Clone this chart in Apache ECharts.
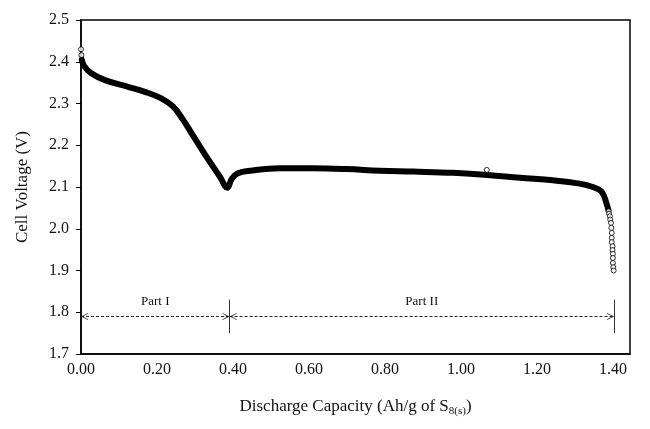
<!DOCTYPE html>
<html>
<head>
<meta charset="utf-8">
<script src="https://cdn.jsdelivr.net/npm/echarts@6/dist/echarts.min.js"></script>
<style>html,body{margin:0;padding:0;background:#fff}#c{width:650px;height:429px}</style>
</head>
<body>
<div id="c"></div>
<script>
// Main discharge curve (capacity Ah/g, voltage V)
var curveX = [0.002, 0.008, 0.026, 0.063, 0.124, 0.168, 0.21, 0.242, 0.268, 0.295, 0.33, 0.366, 0.385, 0.397, 0.413, 0.445, 0.524, 0.61, 0.70, 0.787, 0.874, 0.98, 1.07, 1.155, 1.242, 1.313, 1.347, 1.371, 1.384, 1.388];
var curveY = [2.405, 2.39, 2.373, 2.356, 2.34, 2.328, 2.313, 2.293, 2.262, 2.223, 2.173, 2.124, 2.098, 2.12, 2.133, 2.139, 2.145, 2.145, 2.143, 2.139, 2.137, 2.134, 2.129, 2.122, 2.116, 2.108, 2.10, 2.088, 2.058, 2.045];
// Isolated hollow-circle points
var circleX = [0.0, 0.001, 1.068, 1.389, 1.390, 1.392, 1.393, 1.395, 1.396, 1.397, 1.397, 1.397, 1.399, 1.399, 1.400, 1.400, 1.400, 1.401, 1.402];
var circleY = [2.43, 2.416, 2.141, 2.042, 2.036, 2.03, 2.022, 2.014, 2.002, 1.99, 1.978, 1.968, 1.958, 1.949, 1.94, 1.93, 1.918, 1.908, 1.90];
// Annotation
var partBounds = [0, 0.391, 1.403];
var partLabels = ['Part I', 'Part II'];
var arrowY = 1.79;
var dividerY = [1.75, 1.83];
var xTicks = [0, 0.2, 0.4, 0.6, 0.8, 1.0, 1.2, 1.4];
var yTicks = [1.7, 1.8, 1.9, 2.0, 2.1, 2.2, 2.3, 2.4, 2.5];

var FONT = '"Liberation Serif", "Times New Roman", serif';
var chart = echarts.init(document.getElementById('c'));
var curve = curveX.map(function (x, i) { return [x, curveY[i]]; });
var circles = circleX.map(function (x, i) { return [x, circleY[i]]; });

// open chevron whose tip sits at the symbol centre
var chev = 'path://M5,0L5.01,0L5,0.01Z M0,20L5,10L10,20L8.9,20L5,12.4L1.1,20Z';
var mlData = [];
for (var i = 0; i < partLabels.length; i++) {
  mlData.push([
    { coord: [partBounds[i], arrowY], symbol: chev, symbolSize: [7, 14] },
    { coord: [partBounds[i + 1], arrowY], symbol: chev, symbolSize: [7, 14],
      label: { show: true, formatter: partLabels[i] } }
  ]);
}
for (var j = 1; j < partBounds.length; j++) {
  mlData.push([
    { coord: [partBounds[j], dividerY[0]], symbol: 'none', lineStyle: { type: 'solid', color: '#333', width: 1 } },
    { coord: [partBounds[j], dividerY[1]], symbol: 'none' }
  ]);
}

chart.setOption({
  animation: false,
  grid: { left: 81, right: 20, top: 20, bottom: 75, show: true, borderColor: '#000', borderWidth: 1.5, backgroundColor: 'transparent' },
  xAxis: {
    type: 'value', min: 0, max: 1.445, interval: 0.2,
    name: 'Discharge Capacity (Ah/g of S{sub|8(s)})',
    nameLocation: 'middle', nameGap: 43,
    nameTextStyle: { fontFamily: FONT, fontSize: 17, color: '#111',
      rich: { sub: { fontFamily: FONT, fontSize: 11, color: '#111', padding: [9, 0, 0, 0] } } },
    axisLine: { lineStyle: { color: '#000', width: 1.5 } },
    axisTick: { show: false },
    splitLine: { show: false },
    axisLabel: { fontFamily: FONT, fontSize: 16, color: '#111', margin: 8,
      showMaxLabel: false,
      formatter: function (v) { return xTicks.some(function (t) { return Math.abs(t - v) < 1e-6; }) ? v.toFixed(2) : ''; } }
  },
  yAxis: {
    type: 'value', min: 1.7, max: 2.5, interval: 0.1,
    name: 'Cell Voltage (V)', nameLocation: 'middle', nameGap: 50,
    nameTextStyle: { fontFamily: FONT, fontSize: 17, color: '#111' },
    axisLine: { lineStyle: { color: '#000', width: 1.5 } },
    axisTick: { show: true, inside: false, length: 5, lineStyle: { color: '#000' } },
    splitLine: { show: false },
    axisLabel: { fontFamily: FONT, fontSize: 16, color: '#111', margin: 12,
      formatter: function (v) { return v.toFixed(1); } }
  },
  series: [
    {
      type: 'line', data: curve, smooth: 0.4, symbol: 'none',
      lineStyle: { color: '#000', width: 6, cap: 'round', join: 'round' }, z: 3
    },
    {
      type: 'scatter', data: circles, symbol: 'circle', symbolSize: 5,
      itemStyle: { color: '#fff', borderColor: '#000', borderWidth: 1 }, z: 4,
      markLine: {
        silent: true, animation: false,
        lineStyle: { color: '#222', type: [3, 2], width: 1 },
        label: { position: 'middle', distance: 8, fontFamily: FONT, fontSize: 13, color: '#111' },
        data: mlData
      }
    }
  ]
});
</script>
</body>
</html>
